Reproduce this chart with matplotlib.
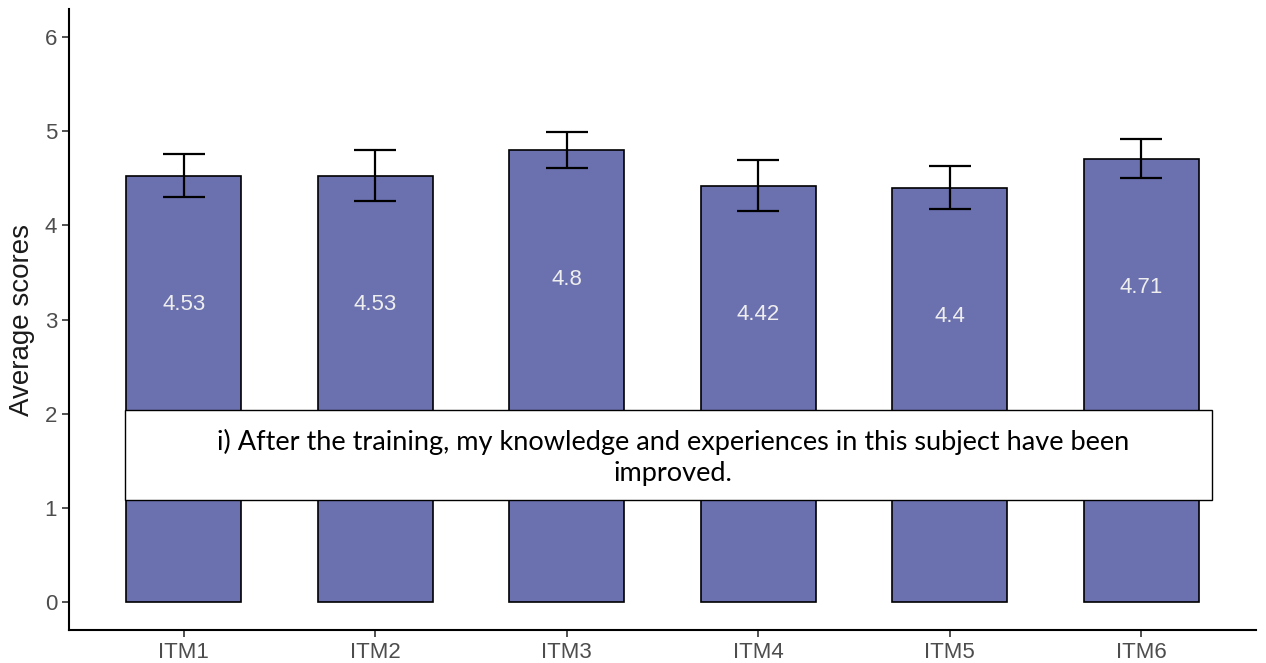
import matplotlib
matplotlib.use("Agg")
import matplotlib.pyplot as plt
import numpy as np

items = ["ITM1", "ITM2", "ITM3", "ITM4", "ITM5", "ITM6"]
means = [4.53, 4.53, 4.8, 4.42, 4.4, 4.71]
errs = [0.23, 0.27, 0.19, 0.27, 0.23, 0.21]
labels = ["4.53", "4.53", "4.8", "4.42", "4.4", "4.71"]
caption = "i) After the training, my knowledge and experiences in this subject have been\nimproved."

plt.rcParams["font.family"] = ["Liberation Sans", "DejaVu Sans"]

fig = plt.figure(figsize=(12.66, 6.63), dpi=100)
ax = fig.add_axes([69 / 1266, 33 / 663, 1187 / 1266, 621 / 663])

x = np.arange(1, len(items) + 1)
ax.bar(x, means, width=0.6, color="#6B70AF", edgecolor="black", linewidth=1.2, zorder=2)
ax.errorbar(x, means, yerr=errs, fmt="none", ecolor="black", elinewidth=1.6,
            capsize=15, capthick=1.6, zorder=3)

for xi, m, lab in zip(x, means, labels):
    ax.text(xi, m - 1.37, lab, ha="center", va="center", color="#EEEEEE", fontsize=16)

ax.set_xlim(0.4, 6.6)
ax.set_ylim(-0.3, 6.3)
ax.set_xticks(x)
ax.set_xticklabels(items)
ax.set_yticks([0, 1, 2, 3, 4, 5, 6])
ax.tick_params(axis="both", labelsize=16, labelcolor="#4D4D4D", color="#333333",
               length=5, width=1.2)
ax.set_ylabel("Average scores", fontsize=20, color="#1A1A1A", labelpad=7)

for s in ["top", "right"]:
    ax.spines[s].set_visible(False)
for s in ["left", "bottom"]:
    ax.spines[s].set_linewidth(1.5)

# white caption box overlaid on the chart
box = plt.Rectangle((125 / 1266, 163 / 663), 1087 / 1266, 90 / 663,
                    transform=fig.transFigure, facecolor="white", edgecolor="black",
                    linewidth=1, zorder=10)
fig.patches.append(box)
fig.text(673 / 1266, 206 / 663, caption, ha="center", va="center", fontsize=19.5,
         family=["Lato", "DejaVu Sans"], color="black", linespacing=1.3, zorder=11)

fig.savefig("out.png", dpi=100)
